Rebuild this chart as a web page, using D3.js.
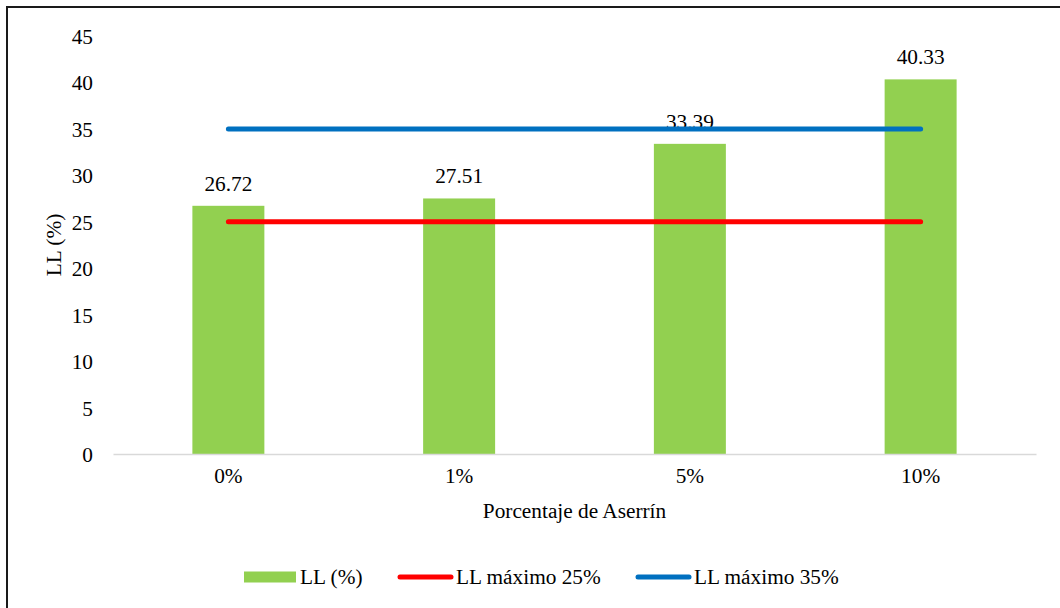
<!doctype html>
<html lang="es">
<head>
    <meta charset="utf-8" />
    <title>LL (%) vs Porcentaje de Aserrín</title>
    <style>
        body { margin: 0; background: #fff; }
        #chart { display: block; }
        #chart text { font-family: "Liberation Serif", "Times New Roman", serif; fill: #000; }
    </style>
</head>
<body>
    <svg id="chart"></svg>

    <script src="https://cdn.jsdelivr.net/npm/d3@7"></script>
    <script>
        // data
        const categories = ["0%", "1%", "5%", "10%"];
        const llValues = [26.72, 27.51, 33.39, 40.33];
        const llMax25 = [25, 25, 25, 25];
        const llMax35 = [35, 35, 35, 35];
        const yTicks = [0, 5, 10, 15, 20, 25, 30, 35, 40, 45];
        const legendLabels = ["LL (%)", "LL máximo 25%", "LL máximo 35%"];

        const width = 1060, height = 608;
        const plot = {left: 113, right: 1036, top: 36, bottom: 454};
        const fontSize = 21.3;

        const green = "#92d050", red = "#ff0000", blue = "#0070c0";

        const svg = d3.select("#chart")
            .attr("width", width)
            .attr("height", height);

        // outer frame (cut off at right and bottom in the picture)
        svg.append("rect")
            .attr("x", 7).attr("y", 7)
            .attr("width", width + 20).attr("height", height + 20)
            .attr("fill", "none")
            .attr("stroke", "#1a1a1a")
            .attr("stroke-width", 2);

        const x = d3.scaleBand()
            .domain(categories)
            .range([plot.left, plot.right]);

        const y = d3.scaleLinear()
            .domain([0, 45])
            .range([plot.bottom, plot.top]);

        const barWidth = x.bandwidth() * 0.312;
        const cx = d => x(d) + x.bandwidth() / 2;

        // y axis labels (no axis line)
        const yAxis = svg.append("g")
            .attr("transform", `translate(${plot.left - 20},0)`)
            .call(d3.axisLeft(y).tickValues(yTicks).tickSize(0).tickPadding(0));
        yAxis.attr("font-family", null).attr("font-size", fontSize);
        yAxis.select(".domain").remove();
        yAxis.selectAll("text").attr("dy", "0.35em");

        // bars
        svg.append("g")
            .selectAll("rect")
            .data(categories)
            .join("rect")
            .attr("x", d => cx(d) - barWidth / 2)
            .attr("width", barWidth)
            .attr("y", (d, i) => y(llValues[i]))
            .attr("height", (d, i) => y(0) - y(llValues[i]))
            .attr("fill", green);

        // x axis
        const xAxis = svg.append("g")
            .attr("transform", `translate(0,${plot.bottom})`)
            .call(d3.axisBottom(x).tickSize(0).tickPadding(14));
        xAxis.attr("font-family", null).attr("font-size", fontSize);
        xAxis.select(".domain")
            .attr("stroke", "#d9d9d9")
            .attr("stroke-width", 1.5);

        // value labels
        svg.append("g")
            .selectAll("text")
            .data(categories)
            .join("text")
            .attr("x", d => cx(d))
            .attr("y", (d, i) => y(llValues[i]) - 15)
            .attr("text-anchor", "middle")
            .attr("font-size", fontSize)
            .text((d, i) => llValues[i].toFixed(2));

        // limit lines
        const line = d3.line()
            .x((d, i) => cx(categories[i]))
            .y(d => y(d));

        [[llMax25, red], [llMax35, blue]].forEach(([vals, c]) => {
            svg.append("path")
                .datum(vals)
                .attr("d", line)
                .attr("fill", "none")
                .attr("stroke", c)
                .attr("stroke-width", 5)
                .attr("stroke-linecap", "round");
        });

        // axis titles
        svg.append("text")
            .attr("transform", `translate(61,${(plot.top + plot.bottom) / 2}) rotate(-90)`)
            .attr("text-anchor", "middle")
            .attr("font-size", fontSize)
            .text("LL (%)");

        svg.append("text")
            .attr("x", (plot.left + plot.right) / 2)
            .attr("y", 518)
            .attr("text-anchor", "middle")
            .attr("font-size", fontSize)
            .text("Porcentaje de Aserrín");

        // legend
        const legendItems = [
            {label: legendLabels[0], color: green, type: "rect", x: 244},
            {label: legendLabels[1], color: red, type: "line", x: 398},
            {label: legendLabels[2], color: blue, type: "line", x: 636}
        ];
        const legendY = 577;
        const legend = svg.append("g")
            .selectAll("g")
            .data(legendItems)
            .join("g")
            .attr("transform", d => `translate(${d.x},${legendY})`);

        legend.filter(d => d.type === "rect")
            .append("rect")
            .attr("x", 0).attr("y", -5.5)
            .attr("width", 52).attr("height", 11)
            .attr("fill", d => d.color);

        legend.filter(d => d.type === "line")
            .append("line")
            .attr("x1", 2).attr("x2", 53)
            .attr("y1", 0).attr("y2", 0)
            .attr("stroke", d => d.color)
            .attr("stroke-width", 5)
            .attr("stroke-linecap", "round");

        legend.append("text")
            .attr("x", d => d.type === "rect" ? 56 : 58)
            .attr("y", 0)
            .attr("dy", "0.35em")
            .attr("font-size", fontSize)
            .text(d => d.label);
    </script>
</body>
</html>
